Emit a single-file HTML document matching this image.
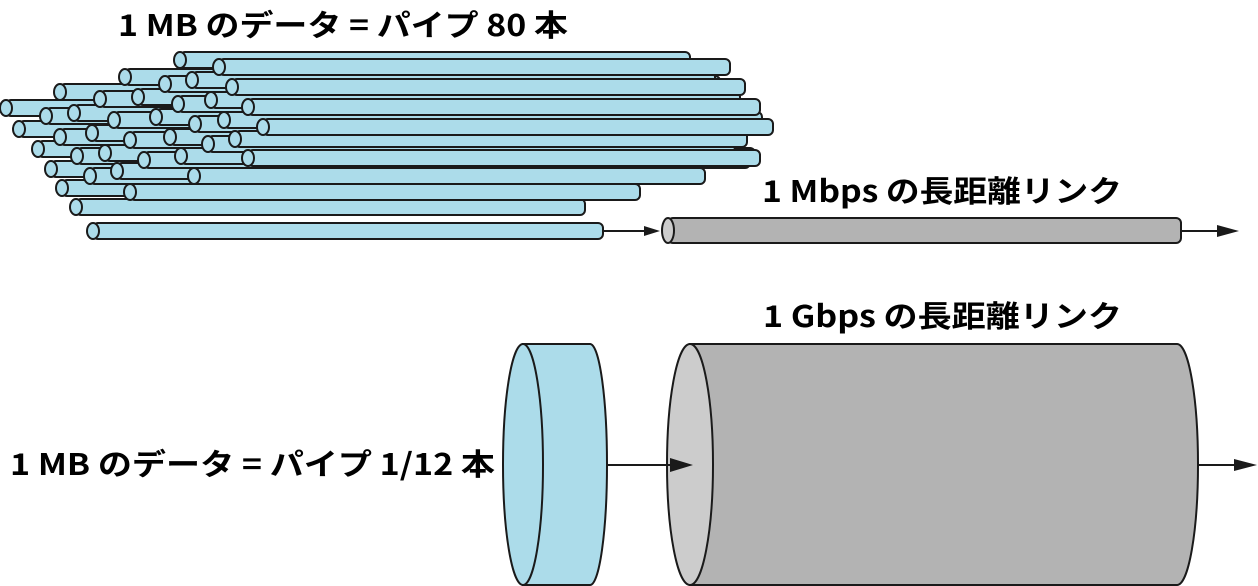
<!DOCTYPE html>
<html><head><meta charset="utf-8"><style>
html,body{margin:0;padding:0;background:#fff;}
svg{display:block;}
text{font-family:"Noto Sans CJK JP","Liberation Sans",sans-serif;font-weight:bold;font-size:30px;fill:#000;}
.p rect{fill:#acdcea;stroke:#1a1a1a;stroke-width:2;}
.p ellipse{fill:#acdcea;stroke:#1a1a1a;stroke-width:2;}
</style></head><body>
<svg width="1258" height="586" viewBox="0 0 1258 586" xmlns="http://www.w3.org/2000/svg">
<text x="118" y="36" textLength="450" lengthAdjust="spacingAndGlyphs">1 MB のデータ = パイプ 80 本</text>
<text x="762" y="202" textLength="360" lengthAdjust="spacingAndGlyphs">1 Mbps の長距離リンク</text>
<text x="763" y="327" textLength="359" lengthAdjust="spacingAndGlyphs">1 Gbps の長距離リンク</text>
<text x="10" y="475" textLength="485" lengthAdjust="spacingAndGlyphs">1 MB のデータ = パイプ 1/12 本</text>

<g class="p">
<rect x="6" y="100" width="694" height="16" rx="5"/><ellipse cx="6" cy="108" rx="6" ry="8"/>
<rect x="19" y="121" width="681" height="16" rx="5"/><ellipse cx="19" cy="129" rx="6" ry="8"/>
<rect x="38" y="141" width="662" height="16" rx="5"/><ellipse cx="38" cy="149" rx="6" ry="8"/>
<rect x="46" y="108" width="699" height="16" rx="5"/><ellipse cx="46" cy="116" rx="6" ry="8"/>
<rect x="51" y="161" width="599" height="16" rx="5"/><ellipse cx="51" cy="169" rx="6" ry="8"/>
<rect x="60" y="84" width="640" height="16" rx="5"/><ellipse cx="60" cy="92" rx="6" ry="8"/>
<rect x="60" y="129" width="680" height="16" rx="5"/><ellipse cx="60" cy="137" rx="6" ry="8"/>
<rect x="62" y="180" width="538" height="16" rx="5"/><ellipse cx="62" cy="188" rx="6" ry="8"/>
<rect x="74" y="105" width="666" height="16" rx="5"/><ellipse cx="74" cy="113" rx="6" ry="8"/>
<rect x="76" y="199" width="509" height="16" rx="5"/><ellipse cx="76" cy="207" rx="6" ry="8"/>
<rect x="77" y="148" width="663" height="16" rx="5"/><ellipse cx="77" cy="156" rx="6" ry="8"/>
<rect x="90" y="168" width="590" height="16" rx="5"/><ellipse cx="90" cy="176" rx="6" ry="8"/>
<rect x="92" y="125" width="653" height="16" rx="5"/><ellipse cx="92" cy="133" rx="6" ry="8"/>
<rect x="93" y="223" width="510" height="16" rx="5"/><ellipse cx="93" cy="231" rx="6" ry="8"/>
<rect x="100" y="91" width="625" height="16" rx="5"/><ellipse cx="100" cy="99" rx="6" ry="8"/>
<rect x="105" y="145" width="640" height="16" rx="5"/><ellipse cx="105" cy="153" rx="6" ry="8"/>
<rect x="114" y="112" width="636" height="16" rx="5"/><ellipse cx="114" cy="120" rx="6" ry="8"/>
<rect x="117" y="163" width="583" height="16" rx="5"/><ellipse cx="117" cy="171" rx="6" ry="8"/>
<rect x="125" y="69" width="580" height="16" rx="5"/><ellipse cx="125" cy="77" rx="6" ry="8"/>
<rect x="130" y="132" width="605" height="16" rx="5"/><ellipse cx="130" cy="140" rx="6" ry="8"/>
<rect x="130" y="184" width="510" height="16" rx="5"/><ellipse cx="130" cy="192" rx="6" ry="8"/>
<rect x="138" y="89" width="592" height="16" rx="5"/><ellipse cx="138" cy="97" rx="6" ry="8"/>
<rect x="144" y="152" width="606" height="16" rx="5"/><ellipse cx="144" cy="160" rx="6" ry="8"/>
<rect x="156" y="109" width="599" height="16" rx="5"/><ellipse cx="156" cy="117" rx="6" ry="8"/>
<rect x="165" y="76" width="555" height="16" rx="5"/><ellipse cx="165" cy="84" rx="6" ry="8"/>
<rect x="170" y="129" width="575" height="16" rx="5"/><ellipse cx="170" cy="137" rx="6" ry="8"/>
<rect x="178" y="96" width="557" height="16" rx="5"/><ellipse cx="178" cy="104" rx="6" ry="8"/>
<rect x="180" y="52" width="510" height="16" rx="5"/><ellipse cx="180" cy="60" rx="6" ry="8"/>
<rect x="181" y="148" width="574" height="16" rx="5"/><ellipse cx="181" cy="156" rx="6" ry="8"/>
<rect x="192" y="72" width="523" height="16" rx="5"/><ellipse cx="192" cy="80" rx="6" ry="8"/>
<rect x="194" y="168" width="511" height="16" rx="5"/><ellipse cx="194" cy="176" rx="6" ry="8"/>
<rect x="195" y="116" width="565" height="16" rx="5"/><ellipse cx="195" cy="124" rx="6" ry="8"/>
<rect x="208" y="136" width="527" height="16" rx="5"/><ellipse cx="208" cy="144" rx="6" ry="8"/>
<rect x="211" y="92" width="529" height="16" rx="5"/><ellipse cx="211" cy="100" rx="6" ry="8"/>
<rect x="219" y="59" width="511" height="16" rx="5"/><ellipse cx="219" cy="67" rx="6" ry="8"/>
<rect x="224" y="112" width="538" height="16" rx="5"/><ellipse cx="224" cy="120" rx="6" ry="8"/>
<rect x="232" y="79" width="513" height="16" rx="5"/><ellipse cx="232" cy="87" rx="6" ry="8"/>
<rect x="235" y="131" width="512" height="16" rx="5"/><ellipse cx="235" cy="139" rx="6" ry="8"/>
<rect x="248" y="99" width="512" height="16" rx="5"/><ellipse cx="248" cy="107" rx="6" ry="8"/>
<rect x="248" y="150" width="512" height="16" rx="5"/><ellipse cx="248" cy="158" rx="6" ry="8"/>
<rect x="263" y="119" width="510" height="16" rx="5"/><ellipse cx="263" cy="127" rx="6" ry="8"/>
</g>

<line x1="603" y1="231" x2="650" y2="231" stroke="#1a1a1a" stroke-width="2"/>
<polygon points="660,231 644,226 644,236" fill="#1a1a1a"/>
<rect x="668" y="218" width="513" height="25" rx="5" fill="#b3b3b3" stroke="#1a1a1a" stroke-width="2"/>
<ellipse cx="668" cy="230.5" rx="6" ry="12.5" fill="#cccccc" stroke="#1a1a1a" stroke-width="2"/>
<line x1="1181" y1="231" x2="1228" y2="231" stroke="#1a1a1a" stroke-width="2"/>
<polygon points="1239,231 1217,225 1217,237" fill="#1a1a1a"/>

<path d="M523,344 H590 A17,120.5 0 0 1 590,585 H523 Z" fill="#acdcea" stroke="#1a1a1a" stroke-width="2"/>
<ellipse cx="523" cy="464.5" rx="20" ry="120.5" fill="#acdcea" stroke="#1a1a1a" stroke-width="2"/>

<path d="M690,344 H1177 A21,120.5 0 0 1 1177,585 H690 Z" fill="#b3b3b3" stroke="#1a1a1a" stroke-width="2"/>
<ellipse cx="690" cy="464.5" rx="23" ry="120.5" fill="#cccccc" stroke="#1a1a1a" stroke-width="2"/>

<line x1="607" y1="465" x2="675" y2="465" stroke="#1a1a1a" stroke-width="2"/>
<polygon points="693,465 670,458 670,472" fill="#1a1a1a"/>
<line x1="1198" y1="465" x2="1240" y2="465" stroke="#1a1a1a" stroke-width="2"/>
<polygon points="1257,465 1234,459 1234,471" fill="#1a1a1a"/>
</svg>
</body></html>
